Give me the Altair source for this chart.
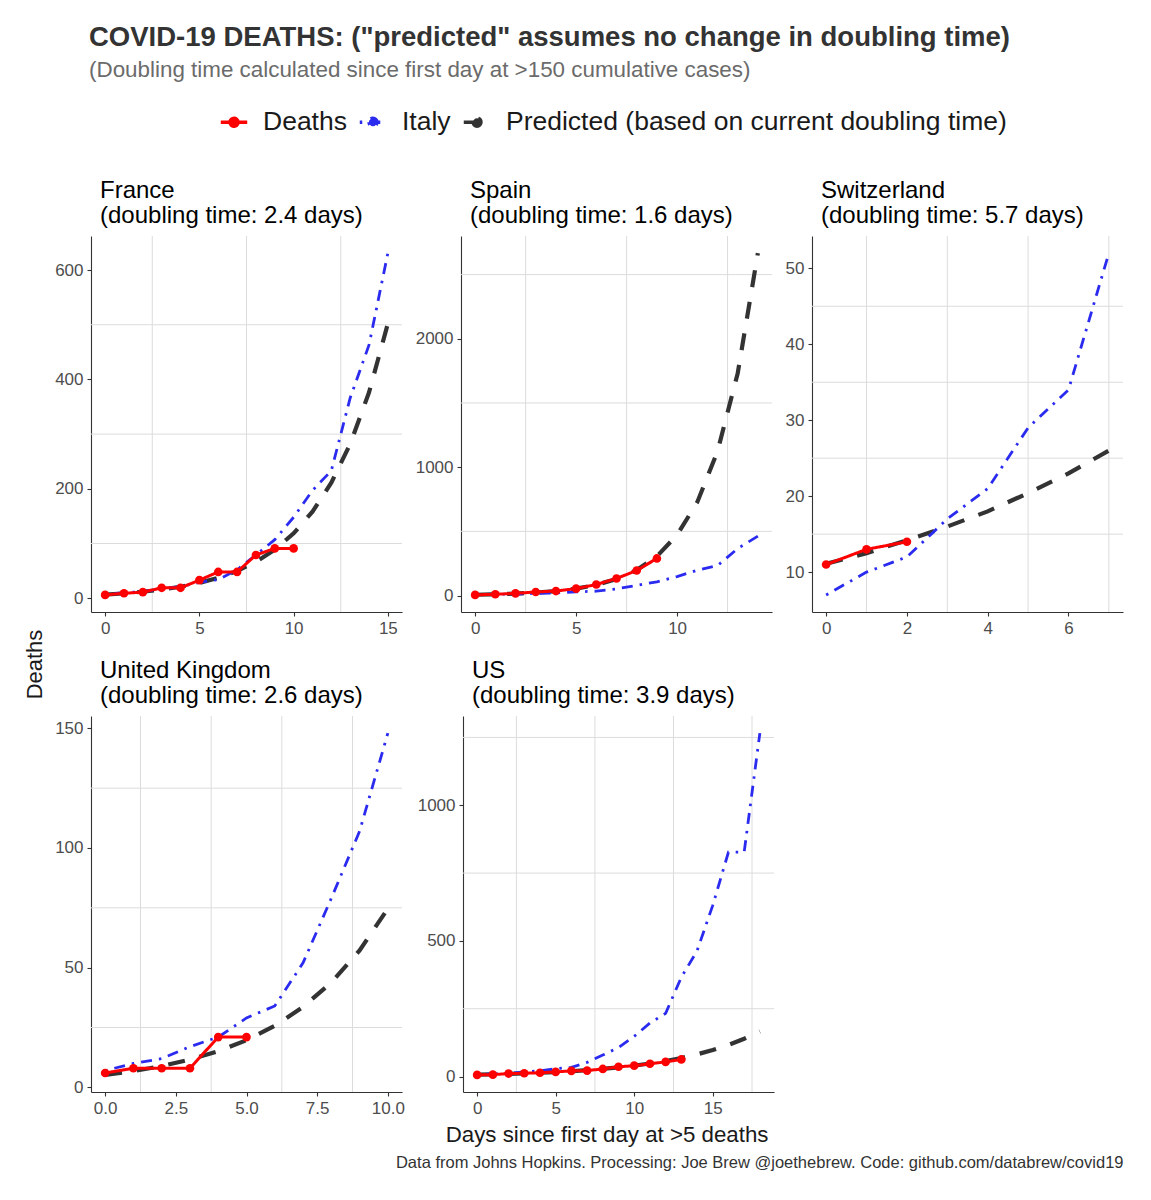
import altair as alt
import pandas as pd

FONT = "Liberation Sans"
SERIES = ["Deaths", "Italy", "Predicted (based on current doubling time)"]
COLORS = ["#ff0000", "#2b2bf0", "#333333"]
DASHES = [[1, 0], [2.5, 7, 11, 7], [17, 15]]

countries = ["France", "Spain", "Switzerland", "United Kingdom", "US"]
doubling_times = ["2.4", "1.6", "5.7", "2.6", "3.9"]

# Italy's cumulative deaths, aligned on the first day at >5 deaths
italy_deaths = [7, 10, 12, 17, 21, 29, 34, 52, 79, 107, 148, 197, 233, 366, 463, 631, 827, 827, 1266]

deaths_france = [6, 9, 11, 19, 19, 33, 48, 48, 79, 91, 91]
deaths_spain = [5, 10, 17, 28, 35, 54, 86, 133, 195, 289]
deaths_switzerland = [11, 13, 14]
deaths_uk = [6, 8, 8, 8, 21, 21]
deaths_us = [6, 7, 11, 12, 14, 17, 21, 22, 28, 36, 40, 47, 54, 63]

pred_france = [6.6, 8.8, 11.8, 15.7, 20.9, 28.0, 37.3, 49.8, 66.5, 88.7, 118.5, 158.1, 211.2, 281.8, 376.2, 502.2]
pred_spain = [6.2, 9.6, 14.8, 22.7, 35.1, 54.1, 83.4, 128.6, 198.4, 305.9, 471.7, 727.4, 1121.8, 1729.8, 2667.5]
pred_switzerland = [11.1, 12.5, 14.2, 16.0, 18.0, 20.4, 23.0, 26.0]
pred_uk = [5.2, 6.8, 8.9, 11.6, 15.1, 19.7, 25.7, 33.6, 43.8, 57.2, 74.7]
pred_us = [6.8, 8.1, 9.7, 11.6, 13.8, 16.5, 19.7, 23.6, 28.2, 33.6, 40.2, 48.0, 57.3, 68.5, 81.8, 97.7, 116.7, 139.4, 166.5]

deaths_all = [deaths_france, deaths_spain, deaths_switzerland, deaths_uk, deaths_us]
pred_all = [pred_france, pred_spain, pred_switzerland, pred_uk, pred_us]

x_ticks = [[0, 5, 10, 15], [0, 5, 10], [0, 2, 4, 6], [0, 2.5, 5, 7.5, 10], [0, 5, 10, 15]]
y_ticks = [[0, 200, 400, 600], [0, 1000, 2000], [10, 20, 30, 40, 50], [0, 50, 100, 150], [0, 500, 1000]]
x_minor = [[2.5, 7.5, 12.5], [2.5, 7.5, 12.5], [1, 3, 5, 7], [1.25, 3.75, 6.25, 8.75], [2.5, 7.5, 12.5, 17.5]]
y_minor = [[100, 300, 500], [500, 1500, 2500], [15, 25, 35, 45], [25, 75, 125], [250, 750, 1250]]
x_formats = ["d", "d", "d", ".1f", "d"]

PW, PH = 311, 376

legend = alt.Legend(
    orient="none", legendX=173, legendY=-129, direction="horizontal", title=None,
    labelFontSize=26.5, labelFont=FONT, labelColor="#1a1a1a", labelLimit=0,
    symbolType="M-1,0H1M-0.3,0A0.3,0.3,0,1,0,0.3,0A0.3,0.3,0,1,0,-0.3,0Z",
    symbolSize=700, symbolStrokeWidth=3.5, columnPadding=5, labelOffset=14,
)
color_enc = alt.Color("series:N", scale=alt.Scale(domain=SERIES, range=COLORS), legend=legend)
dash_enc = alt.StrokeDash("series:N", scale=alt.Scale(domain=SERIES, range=DASHES), legend=legend)

AXIS_STYLE = dict(labelFont=FONT, labelFontSize=17, labelColor="#4d4d4d", tickColor="#333333",
                  domainColor="#333333", tickSize=4, labelPadding=4, domainWidth=1.1, tickWidth=1.1,
                  title=None, grid=False)


def expand(lo, hi):
    r = hi - lo
    return [lo - 0.05 * r, hi + 0.05 * r]


def panel(i):
    n = len(pred_all[i])
    rows = []
    for d, v in enumerate(deaths_all[i]):
        rows.append({"day": d, "value": v, "series": SERIES[0]})
    for d, v in enumerate(italy_deaths[:n]):
        rows.append({"day": d, "value": v, "series": SERIES[1]})
    for d, v in enumerate(pred_all[i]):
        rows.append({"day": d, "value": v, "series": SERIES[2]})
    df = pd.DataFrame(rows)
    xs = alt.Scale(domain=expand(0, n - 1), nice=False, zero=False)
    ys = alt.Scale(domain=expand(df["value"].min(), df["value"].max()), nice=False, zero=False)
    xax = alt.Axis(values=x_ticks[i], format=x_formats[i], **AXIS_STYLE)
    yax = alt.Axis(values=y_ticks[i], format="d", **AXIS_STYLE)
    x = alt.X("day:Q", scale=xs, axis=xax)
    y = alt.Y("value:Q", scale=ys, axis=yax)

    gx = alt.Chart(pd.DataFrame({"g": x_minor[i]})).mark_rule(color="#dcdcdc", strokeWidth=1).encode(
        x=alt.X("g:Q", scale=xs, axis=xax))
    gy = alt.Chart(pd.DataFrame({"g": y_minor[i]})).mark_rule(color="#dcdcdc", strokeWidth=1).encode(
        y=alt.Y("g:Q", scale=ys, axis=yax))

    base = alt.Chart(df)
    pred = base.transform_filter(alt.datum.series == SERIES[2]).mark_line(strokeWidth=4.2, strokeCap="butt").encode(
        x=x, y=y, color=color_enc, strokeDash=dash_enc)
    ita = base.transform_filter(alt.datum.series == SERIES[1]).mark_line(strokeWidth=2.8).encode(
        x=x, y=y, color=color_enc, strokeDash=dash_enc)
    dl = base.transform_filter(alt.datum.series == SERIES[0]).mark_line(strokeWidth=3).encode(
        x=x, y=y, color=color_enc, strokeDash=dash_enc)
    dp = base.transform_filter(alt.datum.series == SERIES[0]).mark_point(filled=True, size=75, opacity=1).encode(
        x=x, y=y, color=color_enc)

    title = alt.TitleParams(
        text=[countries[i], f"(doubling time: {doubling_times[i]} days)"], anchor="start", frame="group",
        fontSize=24, lineHeight=25, fontWeight="normal", color="#000000", font=FONT, dx=9, offset=8)
    return alt.layer(gx, gy, pred, ita, dl, dp).properties(width=PW, height=PH, title=title)


panels = [panel(i) for i in range(5)]
row1 = alt.hconcat(panels[0], panels[1], panels[2], spacing=12)
row2 = alt.hconcat(panels[3], panels[4], spacing=12)
grid = alt.vconcat(row1, row2, spacing=22).properties(
    title=alt.TitleParams("Days since first day at >5 deaths", orient="bottom", anchor="middle",
                          fontSize=22.3, fontWeight="normal", color="#1a1a1a", font=FONT, dx=18, offset=8))

ylab = alt.Chart(pd.DataFrame({"v": [0]})).mark_point(opacity=0).encode(
    y=alt.Y("v:Q", axis=alt.Axis(title="Deaths", labels=False, ticks=False, domain=False, grid=False,
                                 titleFontSize=22, titleFontWeight="normal", titleColor="#1a1a1a",
                                 titleFont=FONT, titlePadding=0))
).properties(width=1, height=856)

body = alt.hconcat(ylab, grid, spacing=4)
body2 = alt.vconcat(body).properties(
    title=alt.TitleParams("Data from Johns Hopkins. Processing: Joe Brew @joethebrew. Code: github.com/databrew/covid19",
                          orient="bottom", anchor="end", fontSize=16.5, fontWeight="normal", color="#333333",
                          font=FONT, offset=9))

chart = alt.vconcat(body2).properties(
    title=alt.TitleParams(
        'COVID-19 DEATHS: ("predicted" assumes no change in doubling time)',
        subtitle="(Doubling time calculated since first day at >150 cumulative cases)",
        anchor="start", fontSize=27.5, fontWeight="bold", color="#333333", font=FONT,
        subtitleFontSize=22.4, subtitleColor="#6b6b6b", subtitleFont=FONT, subtitlePadding=7,
        dx=66, offset=26),
    padding={"left": 15, "top": 16, "right": 5, "bottom": 5},
).configure(font=FONT, background="white").configure_view(stroke=None)

chart.save("out.html", embed_options={"renderer": "svg", "actions": False})
